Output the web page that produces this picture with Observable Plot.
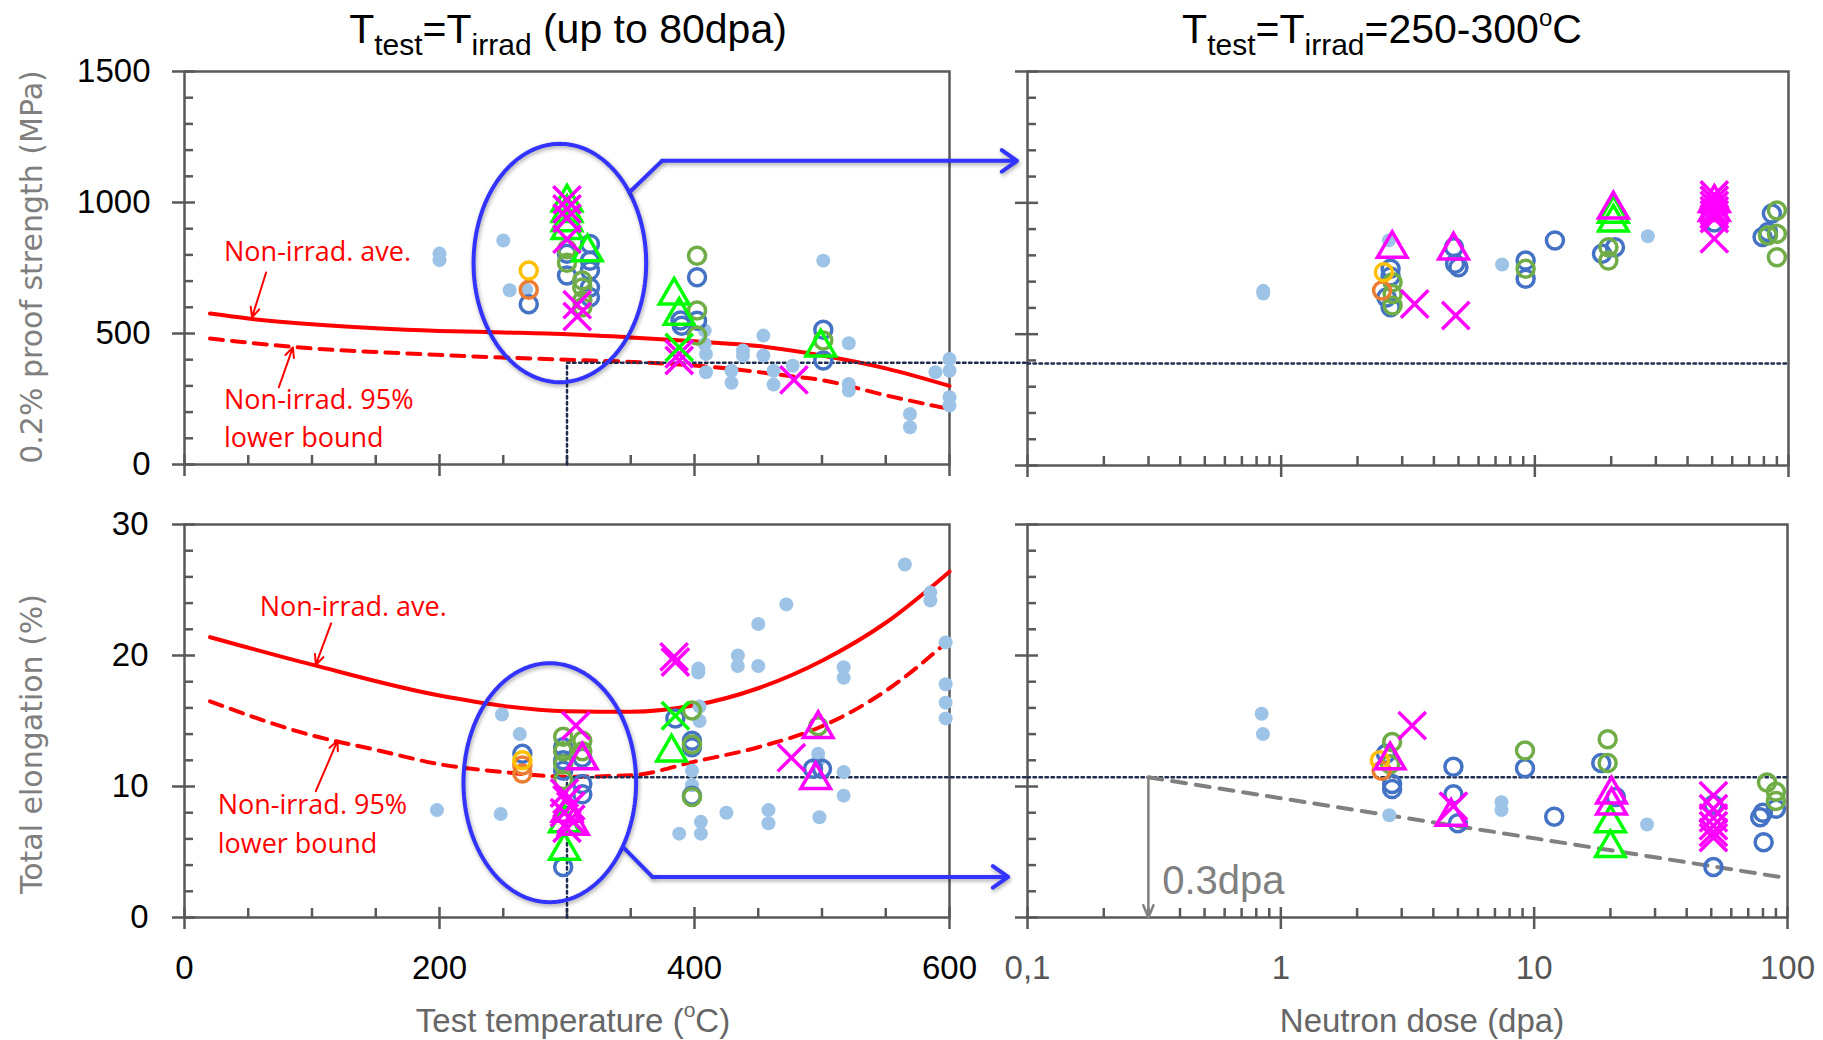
<!DOCTYPE html>
<html>
<head>
<meta charset="utf-8">
<script src="https://cdn.jsdelivr.net/npm/d3@7"></script>
<script src="https://cdn.jsdelivr.net/npm/@observablehq/plot@0.6"></script>
<style>
  html, body { margin: 0; padding: 0; background: #fff; overflow: hidden; }
  #wrap { position: relative; width: 1823px; height: 1040px; overflow: hidden; font-family: "Liberation Sans", Arial, sans-serif; background: #fff; }
  .title { position: absolute; font-size: 41px; line-height: 1; white-space: nowrap; color: #000; transform: translateX(-50%); }
  .title sub { font-size: 30px; vertical-align: -0.4em; line-height: 0; }
  .title sup { font-size: 24px; vertical-align: 0.7em; line-height: 0; }
  .xt { position: absolute; font-size: 33px; line-height: 1; color: #666; white-space: nowrap; transform: translateX(-50%); }
  .xt sup { font-size: 21px; vertical-align: 0.7em; line-height: 0; }
  .yt { position: absolute; font-family: "DejaVu Sans", sans-serif; font-size: 30px; line-height: 1; color: #7f7f7f; white-space: nowrap; transform: translate(-50%, -50%) rotate(-90deg); }
  .pl { position: absolute; }
</style>
</head>
<body>
<div id="wrap">
  <div class="title" style="left:568px; top:9px">T<sub>test</sub>=T<sub>irrad</sub> (up to 80dpa)</div>
  <div class="title" style="left:1382px; top:9px">T<sub>test</sub>=T<sub>irrad</sub>=250-300<sup>o</sup>C</div>
  <div class="yt" style="left:32px; top:267px">0.2% proof strength (MPa)</div>
  <div class="yt" style="left:32px; top:744px">Total elongation (%)</div>
  <div class="xt" style="left:573px; top:1004px">Test temperature (<sup>o</sup>C)</div>
  <div class="xt" style="left:1422px; top:1004px">Neutron dose (dpa)</div>
</div>
<script>
// ---------------- DATA ----------------
// Axis ticks
const tempTicks = [0, 200, 400, 600];
const tempTickLabels = ["0", "200", "400", "600"];
const tempMinor = [50, 100, 150, 250, 300, 350, 450, 500, 550];
const doseTicks = [0.1, 1, 10, 100];
const doseTickLabels = ["0,1", "1", "10", "100"];
const strengthTicks = [0, 500, 1000, 1500];
const strengthTickLabels = ["0", "500", "1000", "1500"];
const strengthMinor = [100, 200, 300, 400, 600, 700, 800, 900, 1100, 1200, 1300, 1400];
const elongTicks = [0, 10, 20, 30];
const elongTickLabels = ["0", "10", "20", "30"];
const elongMinor = [2, 4, 6, 8, 12, 14, 16, 18, 22, 24, 26, 28];

// Non-irradiated reference curves [temperature, value]
const strengthAvg = [[20,576],[50,557],[100,535],[150,520],[200,510],[250,504],[300,497],[350,485],[400,470],[450,452],[500,416],[550,367],[600,300]];
const strength95 = [[20,481],[50,465],[100,443],[170,425],[240,410],[300,400],[358,390],[400,378],[473,339],[500,322],[551,263],[600,212]];
const elongAvg = [[20,21.4],[100,19.3],[200,16.95],[300,15.75],[350,15.7],[400,16.2],[450,17.5],[500,19.6],[550,22.5],[600,26.4]];
const elong95 = [[20,16.5],[100,13.9],[150,12.8],[200,11.7],[250,11.1],[300,10.75],[350,10.85],[400,11.9],[450,13.0],[500,14.6],[550,17.3],[600,21.2]];

// Reference levels
const refTemp = 300;
const refStrength = 388;
const refElong = 10.7;
const refDose = 0.3;
const trendEnd = [100, 3.0];

// ---- Strength vs temperature [T, MPa]
const tlLightBlue = [[200,805],[200,780],[250,855],[255,665],[268,667],[408,511],[408,460],[409,422],[409,352],[429,358],[429,312],[438,435],[438,415],[454,492],[454,416],[462,358],[462,305],[477,377],[501,778],[521,463],[521,307],[521,282],[569,193],[569,142],[589,352],[600,403],[600,358],[600,257],[600,225]];
const tlBlue = [[270,612],[300,804],[300,721],[318,842],[318,778],[318,740],[318,676],[318,638],[390,530],[389,550],[402,715],[402,549],[501,514],[501,397]];
const tlOlive = [[300,822],[300,770],[312,702],[312,676],[312,626],[312,600],[402,797],[402,588],[402,492],[501,473]];
const tlOrange = [[270,667]];
const tlGold = [[270,740]];
const tlGreenTri = [[300,1000],[300,960],[300,925],[300,895],[316,810],[384,645],[388,568],[499,447]];
const tlMagentaX = [[300,1010],[300,975],[300,940],[300,860],[308,610],[308,565],[388,422],[388,397],[478,323]];
const tlGreenX = [[388,447]];

// ---- Strength vs dose [dpa, MPa]
const trLightBlue = [[0.85,665],[0.85,655],[2.66,857],[7.43,765],[27.9,873]];
const trBlue = [[2.7,749],[2.7,720],[2.6,640],[2.7,602],[4.8,831],[4.85,768],[5.0,755],[9.2,780],[9.2,711],[12,857],[18.4,806],[20.7,831],[51,925],[79,870],[83,889],[86,959]];
const trOlive = [[2.75,698],[2.75,653],[2.75,609],[9.2,749],[19.5,831],[19.5,780],[90,971],[83,876],[90,882],[90,793]];
const trOrange = [[2.5,666]];
const trGold = [[2.54,736]];
const trGreenTri = [[20.4,959],[20.4,925]];
const trMagentaTri = [[2.74,825],[4.78,819],[20.4,975],[51,1000],[51,965]];
const trMagentaX = [[3.36,615],[4.88,571],[51,1030],[51,1010],[51,990],[51,970],[51,955],[51,940],[51,863]];

// ---- Elongation vs temperature [T, %]
const blLightBlue = [[198,8.2],[249,15.5],[263,14.0],[248,7.9],[388,6.4],[403,19.0],[403,18.7],[404,16.1],[404,15.0],[398,11.2],[398,10.1],[405,7.3],[405,6.4],[425,8.0],[434,20.0],[434,19.2],[450,22.4],[450,19.2],[458,8.2],[458,7.2],[472,23.9],[497,12.5],[497,12.0],[498,7.65],[517,19.1],[517,18.3],[517,11.1],[517,9.3],[565,26.95],[585,24.8],[585,24.2],[597,21.0],[597,17.8],[597,16.4],[597,15.2]];
const blBlue = [[265,12.5],[297,13.0],[297,12.0],[297,11.2],[312,12.2],[312,10.2],[312,9.4],[297,3.85],[385,15.2],[398,13.5],[398,13.0],[398,9.3],[493,11.35],[500,11.35]];
const blOlive = [[297,13.8],[297,12.7],[297,11.7],[297,10.5],[312,13.5],[312,12.7],[398,15.8],[398,13.2],[398,9.2],[497,14.6]];
const blOrange = [[265,11.6],[265,11.0]];
const blGold = [[265,12.0]];
const blGreenTri = [[298,7.2],[298,5.1],[382,12.6]];
const blMagentaTri = [[312,12.0],[300,8.0],[305,7.0],[497,14.4],[495,10.5]];
const blMagentaX = [[307,14.65],[298,9.5],[300,9.0],[303,8.5],[298,8.0],[303,7.5],[300,6.8],[384,19.9],[385,19.5],[476,12.2]];
const blGreenX = [[385,15.4]];

// ---- Elongation vs dose [dpa, %]
const brLightBlue = [[0.84,15.55],[0.85,14.0],[2.68,7.8],[7.43,8.8],[7.43,8.2],[27.9,7.1]];
const brBlue = [[2.6,12.5],[2.75,10.2],[2.75,9.8],[4.8,11.5],[4.8,9.4],[5.0,7.2],[9.2,11.4],[12,7.7],[18.4,11.8],[21,9.2],[51,8.6],[51,3.85],[80,8.0],[78,7.65],[90,8.3],[80.5,5.75]];
const brOlive = [[2.75,13.4],[2.7,11.7],[9.2,12.75],[19.5,13.6],[19.5,11.8],[83,10.3],[90,9.6],[90,8.9]];
const brOrange = [[2.5,11.2]];
const brGold = [[2.46,12.0]];
const brGreenTri = [[20,7.2],[20,5.3]];
const brMagentaTri = [[2.7,12.0],[4.7,7.7],[20.2,9.4],[20.2,8.55]];
const brMagentaX = [[3.3,14.65],[4.8,8.5],[51,9.3],[51,8.3],[51,7.6],[51,7.0],[51,6.5],[51,6.1]];

// Annotations (data coordinates)
const tlNotes = [{x:31,y:808,t:"Non-irrad. ave."},{x:31,y:244,t:"Non-irrad. 95%"},{x:31,y:98,t:"lower bound"}];
const tlNoteArrows = [{x1:64,y1:733,x2:53,y2:562},{x1:74,y1:295,x2:85,y2:447}];
const blNotes = [{x:59,y:23.7,t:"Non-irrad. ave."},{x:26,y:8.55,t:"Non-irrad. 95%"},{x:26,y:5.55,t:"lower bound"}];
const blNoteArrows = [{x1:115,y1:22.45,x2:103,y2:19.3},{x1:103,y1:9.64,x2:120,y2:13.5}];
const tlEllipse = {cx:294.4, cy:769, rx:67.7, ry:455};
const blEllipse = {cx:286.5, cy:10.29, rx:67.7, ry:9.12};
const tlConnector = [[349,1039],[374.5,1159]];
const tlConnectorArrow = [{x1:374.5,y1:1159,x2:653,y2:1159}];
const blConnector = [[344,5.37],[367,3.1]];
const blConnectorArrow = [{x1:367,y1:3.1,x2:646,y2:3.1}];
const doseNote = [{x:0.34,y:2.8,t:"0.3dpa"}];

// ---------------- STYLES ----------------
const AX = "#595959";
const BLUE_LINE = "#3333ff";
const DOT = "#1f2d50";
const ST = {
  lb: {fill: "#9dc3e6", r: 7},
  bl: {stroke: "#4472c4", fill: "none", r: 8.5, strokeWidth: 3.5},
  ol: {stroke: "#70ad47", fill: "none", r: 8.5, strokeWidth: 3.5},
  or: {stroke: "#ed7d31", fill: "none", r: 8.5, strokeWidth: 3.5},
  go: {stroke: "#ffc000", fill: "none", r: 8.5, strokeWidth: 3.5},
  gt: {symbol: "triangle", stroke: "#00ff00", fill: "none", r: 11, strokeWidth: 3.5},
  mt: {symbol: "triangle", stroke: "#ff00ff", fill: "none", r: 11, strokeWidth: 3.5},
  mx: {symbol: "times", stroke: "#ff00ff", fill: "none", r: 12.5, strokeWidth: 3.5},
  gx: {symbol: "times", stroke: "#00ff00", fill: "none", r: 12.5, strokeWidth: 3.5}
};
const px = d => d[0], py = d => d[1];
const pts = (data, st) => Plot.dot(data, {x: px, y: py, ...st});

function frameAxes(W, H, yMaj, yMin, xMaj, xMin) {
  const s = {stroke: AX, strokeWidth: 2.5};
  return [
    Plot.ruleY(yMaj, {...s, insetLeft: -12, insetRight: W - 11}),
    Plot.ruleY(yMin, {...s, insetRight: W - 9}),
    Plot.ruleX(xMaj, {...s, insetBottom: -12, insetTop: H - 10}),
    Plot.ruleX(xMin, {...s, insetTop: H - 9}),
    Plot.frame({...s})
  ];
}
function ellipsePts(e) {
  return d3.range(0, 361, 2).map(a => [e.cx + e.rx * Math.cos(a * Math.PI / 180), e.cy + e.ry * Math.sin(a * Math.PI / 180)]);
}
const baseStyle = {background: "transparent", overflow: "visible", color: "black", fontFamily: "Liberation Sans, Arial, sans-serif", fontSize: "33px"};
const dotted = {x: px, y: py, stroke: DOT, strokeWidth: 2.5, strokeDasharray: "2.5,3.5"};
const noteFont = "Open Sans, Liberation Sans, sans-serif";

function place(svg, left, top) {
  svg.classList.add("pl");
  svg.style.left = left + "px";
  svg.style.top = top + "px";
  svg.querySelectorAll(`g[stroke="${BLUE_LINE}"]`).forEach(g => g.style.filter = "drop-shadow(1px 2px 2px rgba(0,0,0,0.35))");
  document.getElementById("wrap").appendChild(svg);
}

// ---------------- TOP LEFT ----------------
{
  const W = 765, H = 393;
  const svg = Plot.plot({
    width: 1000, height: 500, marginLeft: 184, marginRight: 51, marginTop: 71, marginBottom: 36,
    x: {domain: [0, 600], axis: null}, y: {domain: [0, 1500], axis: null},
    style: baseStyle,
    marks: [
      ...frameAxes(W, H, strengthTicks, strengthMinor, tempTicks, tempMinor),
      Plot.axisY(strengthTicks, {tickSize: 0, tickPadding: 34, fontSize: 33, tickFormat: d => strengthTickLabels[strengthTicks.indexOf(d)], label: null}),
      Plot.line(strengthAvg, {x: px, y: py, stroke: "#ff0000", strokeWidth: 4, curve: "monotone-x"}),
      Plot.line(strength95, {x: px, y: py, stroke: "#ff0000", strokeWidth: 4, strokeDasharray: "13,9", curve: "monotone-x"}),
      Plot.line([[refTemp, 0], [refTemp, refStrength]], dotted),
      Plot.line([[refTemp, refStrength], [661, refStrength]], dotted),
      pts(tlLightBlue, ST.lb),
      pts(tlBlue, ST.bl), pts(tlOlive, ST.ol), pts(tlOrange, ST.or), pts(tlGold, ST.go),
      pts(tlGreenTri, ST.gt), pts(tlMagentaX, ST.mx), pts(tlGreenX, ST.gx),
      Plot.line(ellipsePts(tlEllipse), {x: px, y: py, stroke: BLUE_LINE, strokeWidth: 4}),
      Plot.line(tlConnector, {x: px, y: py, stroke: BLUE_LINE, strokeWidth: 4}),
      Plot.arrow(tlConnectorArrow, {x1: "x1", y1: "y1", x2: "x2", y2: "y2", stroke: BLUE_LINE, strokeWidth: 4, headLength: 7, headAngle: 70}),
      Plot.text(tlNotes, {x: "x", y: "y", text: "t", fill: "#ff0000", fontSize: 27, fontFamily: noteFont, textAnchor: "start"}),
      Plot.arrow(tlNoteArrows, {x1: "x1", y1: "y1", x2: "x2", y2: "y2", stroke: "#ff0000", strokeWidth: 2, headLength: 8, headAngle: 50})
    ]
  });
  place(svg, 0, 0);
}

// ---------------- TOP RIGHT ----------------
{
  const W = 761, H = 394;
  const doseMinor = [];
  [0.1, 1, 10].forEach(b => { for (let k = 2; k <= 9; k++) doseMinor.push(+(b * k).toPrecision(3)); });
  const svg = Plot.plot({
    width: 923, height: 500, marginLeft: 127, marginRight: 35, marginTop: 71, marginBottom: 35,
    x: {type: "log", domain: [0.1, 100], axis: null}, y: {domain: [0, 1500], axis: null},
    style: baseStyle,
    marks: [
      ...frameAxes(W, H, strengthTicks, strengthMinor, doseTicks, doseMinor),
      Plot.line([[0.1, refStrength], [100, refStrength]], dotted),
      pts(trLightBlue, ST.lb),
      pts(trBlue, ST.bl), pts(trOlive, ST.ol), pts(trOrange, ST.or), pts(trGold, ST.go),
      pts(trGreenTri, ST.gt), pts(trMagentaTri, ST.mt), pts(trMagentaX, ST.mx)
    ]
  });
  place(svg, 900, 0);
}

// ---------------- BOTTOM LEFT ----------------
{
  const W = 765, H = 393;
  const svg = Plot.plot({
    width: 1000, height: 540, marginLeft: 184, marginRight: 51, marginTop: 24, marginBottom: 123,
    x: {domain: [0, 600], axis: null}, y: {domain: [0, 30], axis: null},
    style: baseStyle,
    marks: [
      ...frameAxes(W, H, elongTicks, elongMinor, tempTicks, tempMinor),
      Plot.axisY(elongTicks, {tickSize: 0, tickPadding: 36, fontSize: 33, tickFormat: d => elongTickLabels[elongTicks.indexOf(d)], label: null}),
      Plot.axisX(tempTicks, {tickSize: 0, tickPadding: 38, fontSize: 33, tickFormat: d => tempTickLabels[tempTicks.indexOf(d)], label: null}),
      Plot.line(elongAvg, {x: px, y: py, stroke: "#ff0000", strokeWidth: 4, curve: "monotone-x"}),
      Plot.line(elong95, {x: px, y: py, stroke: "#ff0000", strokeWidth: 4, strokeDasharray: "13,9", curve: "monotone-x"}),
      Plot.line([[refTemp, 0], [refTemp, refElong]], dotted),
      Plot.line([[refTemp, refElong], [661, refElong]], dotted),
      pts(blLightBlue, ST.lb),
      pts(blBlue, ST.bl), pts(blOlive, ST.ol), pts(blOrange, ST.or), pts(blGold, ST.go),
      pts(blGreenTri, ST.gt), pts(blMagentaTri, ST.mt), pts(blMagentaX, ST.mx), pts(blGreenX, ST.gx),
      Plot.line(ellipsePts(blEllipse), {x: px, y: py, stroke: BLUE_LINE, strokeWidth: 4}),
      Plot.line(blConnector, {x: px, y: py, stroke: BLUE_LINE, strokeWidth: 4}),
      Plot.arrow(blConnectorArrow, {x1: "x1", y1: "y1", x2: "x2", y2: "y2", stroke: BLUE_LINE, strokeWidth: 4, headLength: 7, headAngle: 70}),
      Plot.text(blNotes, {x: "x", y: "y", text: "t", fill: "#ff0000", fontSize: 27, fontFamily: noteFont, textAnchor: "start"}),
      Plot.arrow(blNoteArrows, {x1: "x1", y1: "y1", x2: "x2", y2: "y2", stroke: "#ff0000", strokeWidth: 2, headLength: 8, headAngle: 50})
    ]
  });
  place(svg, 0, 500);
}

// ---------------- BOTTOM RIGHT ----------------
{
  const W = 760, H = 393;
  const doseMinor = [];
  [0.1, 1, 10].forEach(b => { for (let k = 2; k <= 9; k++) doseMinor.push(+(b * k).toPrecision(3)); });
  const svg = Plot.plot({
    width: 923, height: 540, marginLeft: 127, marginRight: 36, marginTop: 24, marginBottom: 123,
    x: {type: "log", domain: [0.1, 100], axis: null}, y: {domain: [0, 30], axis: null},
    style: baseStyle,
    marks: [
      ...frameAxes(W, H, elongTicks, elongMinor, doseTicks, doseMinor),
      Plot.axisX(doseTicks, {tickSize: 0, tickPadding: 38, fontSize: 33, fill: "#555", tickFormat: d => doseTickLabels[doseTicks.indexOf(d)], label: null}),
      Plot.line([[0.1, refElong], [100, refElong]], dotted),
      Plot.line([[refDose, refElong], trendEnd], {x: px, y: py, stroke: "#808080", strokeWidth: 4, strokeDasharray: "14,10"}),
      Plot.arrow([{x1: refDose, y1: refElong, x2: refDose, y2: 0}], {x1: "x1", y1: "y1", x2: "x2", y2: "y2", stroke: "#808080", strokeWidth: 2.5, headLength: 8, headAngle: 45}),
      pts(brLightBlue, ST.lb),
      pts(brBlue, ST.bl), pts(brOlive, ST.ol), pts(brOrange, ST.or), pts(brGold, ST.go),
      pts(brGreenTri, ST.gt), pts(brMagentaTri, ST.mt), pts(brMagentaX, ST.mx),
      Plot.text(doseNote, {x: "x", y: "y", text: "t", fill: "#808080", fontSize: 40, textAnchor: "start"})
    ]
  });
  place(svg, 900, 500);
}
</script>
</body>
</html>
